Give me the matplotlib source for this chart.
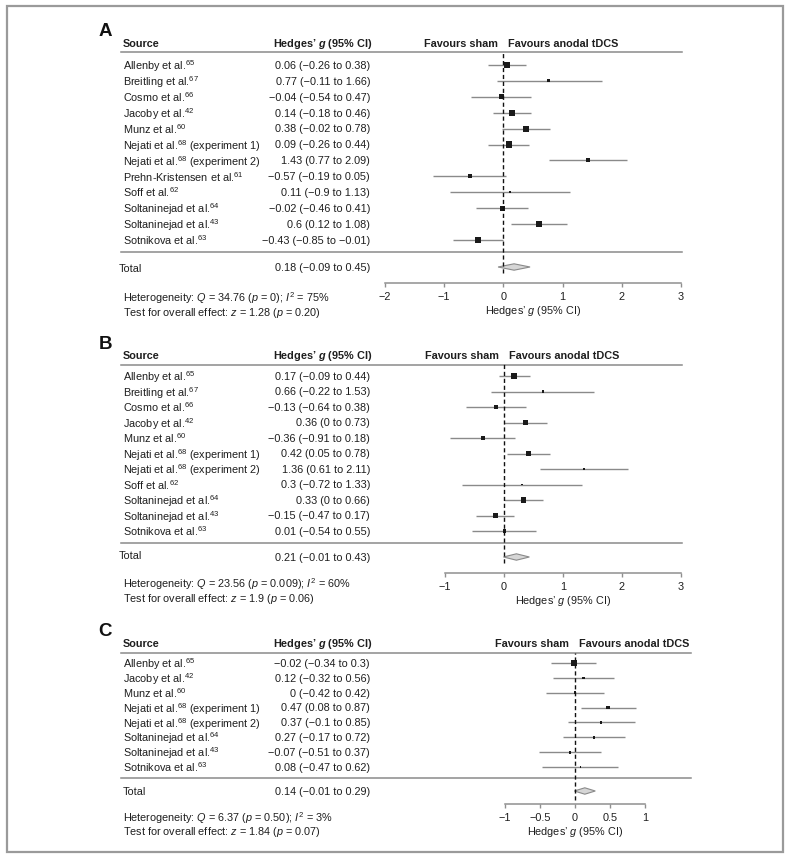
import matplotlib
matplotlib.use('Agg')
import matplotlib.pyplot as plt
from matplotlib.patches import Rectangle
from matplotlib.ticker import FixedLocator, FuncFormatter

plt.rcParams['font.family'] = ['Liberation Sans', 'DejaVu Sans']
plt.rcParams['mathtext.fontset'] = 'custom'
plt.rcParams['mathtext.rm'] = 'Liberation Sans'
plt.rcParams['mathtext.it'] = 'Liberation Sans:italic'
plt.rcParams['mathtext.bf'] = 'Liberation Sans:italic:bold'

# ---------------- Panel A data ----------------
a_sources = ["Allenby et al.$^{65}$", "Breitling et al.$^{67}$", "Cosmo et al.$^{66}$",
             "Jacoby et al.$^{42}$", "Munz et al.$^{60}$",
             "Nejati et al.$^{68}$ (experiment 1)", "Nejati et al.$^{68}$ (experiment 2)",
             "Prehn-Kristensen et al.$^{61}$", "Soff et al.$^{62}$",
             "Soltaninejad et al.$^{64}$", "Soltaninejad et al.$^{43}$", "Sotnikova et al.$^{63}$"]
a_g = [0.06, 0.77, -0.04, 0.14, 0.38, 0.09, 1.43, -0.57, 0.11, -0.02, 0.6, -0.43]
a_lo = [-0.26, -0.11, -0.54, -0.18, -0.02, -0.26, 0.77, -1.19, -0.9, -0.46, 0.12, -0.85]
a_hi = [0.38, 1.66, 0.47, 0.46, 0.78, 0.44, 2.09, 0.05, 1.13, 0.41, 1.08, -0.01]
a_ci_text = ["0.06 (−0.26 to 0.38)", "0.77 (−0.11 to 1.66)", "−0.04 (−0.54 to 0.47)",
             "0.14 (−0.18 to 0.46)", "0.38 (−0.02 to 0.78)", "0.09 (−0.26 to 0.44)",
             "1.43 (0.77 to 2.09)", "−0.57 (−0.19 to 0.05)", "0.11 (−0.9 to 1.13)",
             "−0.02 (−0.46 to 0.41)", "0.6 (0.12 to 1.08)", "−0.43 (−0.85 to −0.01)"]
a_weights = [12.0, 3.0, 8.3, 12.0, 12.0, 12.0, 5.3, 5.3, 2.1, 8.3, 10.0, 10.0]
a_total = [0.18, -0.09, 0.45]
a_total_text = "0.18 (−0.09 to 0.45)"
a_het = "Heterogeneity: $Q$ = 34.76 ($p$ = 0); $I^2$ = 75%"
a_test = "Test for overall effect: $z$ = 1.28 ($p$ = 0.20)"
a_ticks = [-2, -1, 0, 1, 2, 3]

# ---------------- Panel B data ----------------
b_sources = ["Allenby et al.$^{65}$", "Breitling et al.$^{67}$", "Cosmo et al.$^{66}$",
             "Jacoby et al.$^{42}$", "Munz et al.$^{60}$",
             "Nejati et al.$^{68}$ (experiment 1)", "Nejati et al.$^{68}$ (experiment 2)",
             "Soff et al.$^{62}$", "Soltaninejad et al.$^{64}$",
             "Soltaninejad et al.$^{43}$", "Sotnikova et al.$^{63}$"]
b_g = [0.17, 0.66, -0.13, 0.36, -0.36, 0.42, 1.36, 0.3, 0.33, -0.15, 0.01]
b_lo = [-0.09, -0.22, -0.64, 0.0, -0.91, 0.05, 0.61, -0.72, 0.0, -0.47, -0.54]
b_hi = [0.44, 1.53, 0.38, 0.73, 0.18, 0.78, 2.11, 1.33, 0.66, 0.17, 0.55]
b_ci_text = ["0.17 (−0.09 to 0.44)", "0.66 (−0.22 to 1.53)", "−0.13 (−0.64 to 0.38)",
             "0.36 (0 to 0.73)", "−0.36 (−0.91 to 0.18)", "0.42 (0.05 to 0.78)",
             "1.36 (0.61 to 2.11)", "0.3 (−0.72 to 1.33)", "0.33 (0 to 0.66)",
             "−0.15 (−0.47 to 0.17)", "0.01 (−0.54 to 0.55)"]
b_weights = [16.0, 2.7, 8.0, 14.0, 8.0, 14.0, 2.7, 1.5, 14.0, 12.5, 6.8]
b_total = [0.21, -0.01, 0.43]
b_total_text = "0.21 (−0.01 to 0.43)"
b_het = "Heterogeneity: $Q$ = 23.56 ($p$ = 0.009); $I^2$ = 60%"
b_test = "Test for overall effect: $z$ = 1.9 ($p$ = 0.06)"
b_ticks = [-1, 0, 1, 2, 3]

# ---------------- Panel C data ----------------
c_sources = ["Allenby et al.$^{65}$", "Jacoby et al.$^{42}$", "Munz et al.$^{60}$",
             "Nejati et al.$^{68}$ (experiment 1)", "Nejati et al.$^{68}$ (experiment 2)",
             "Soltaninejad et al.$^{64}$", "Soltaninejad et al.$^{43}$",
             "Sotnikova et al.$^{63}$"]
c_g = [-0.02, 0.12, 0.0, 0.47, 0.37, 0.27, -0.07, 0.08]
c_lo = [-0.34, -0.32, -0.42, 0.08, -0.1, -0.17, -0.51, -0.47]
c_hi = [0.3, 0.56, 0.42, 0.87, 0.85, 0.72, 0.37, 0.62]
c_ci_text = ["−0.02 (−0.34 to 0.3)", "0.12 (−0.32 to 0.56)", "0 (−0.42 to 0.42)",
             "0.47 (0.08 to 0.87)", "0.37 (−0.1 to 0.85)", "0.27 (−0.17 to 0.72)",
             "−0.07 (−0.51 to 0.37)", "0.08 (−0.47 to 0.62)"]
c_weights = [40.5, 8.2, 10.1, 15.4, 6.0, 8.2, 8.2, 3.3]
c_total = [0.14, -0.01, 0.29]
c_total_text = "0.14 (−0.01 to 0.29)"
c_het = "Heterogeneity: $Q$ = 6.37 ($p$ = 0.50); $I^2$ = 3%"
c_test = "Test for overall effect: $z$ = 1.84 ($p$ = 0.07)"
c_ticks = [-1, -0.5, 0, 0.5, 1]

# ---------------- styling / layout ----------------
W, H = 791, 861
FS = 7.8
BOFF = 3.9          # px from visual centre to baseline
MOFF = 1.3          # extra shift for strings with superscripts
TXT = '#1e1e1e'
GRAY = '#8a8a8a'
SPINE = '#8f8f8f'

fig = plt.figure(figsize=(W / 100, H / 100), dpi=100)
ov = fig.add_axes([0, 0, 1, 1])
ov.set_xlim(0, W)
ov.set_ylim(H, 0)
ov.axis('off')
ov.add_patch(Rectangle((7, 6), 776, 846, fill=False, edgecolor='#9a9a9a', lw=1.6))

fmt = FuncFormatter(lambda v, p: f"{v:g}".replace('-', '−'))


def put(x, y, s, ha='left', bold=False, size=FS):
    off = BOFF + (MOFF if '^' in s else 0)
    ov.text(x, y + off, s, fontsize=size, ha=ha, va='baseline', color=TXT,
            fontweight='bold' if bold else 'normal')


def draw_panel(letter, L, sources, g, lo, hi, ci_text, weights, wscale, total,
               total_text, het, test, ticks):
    ov.text(105, L['letter_y'] + 5, letter, fontsize=13.5, fontweight='bold',
            ha='center', va='baseline', color='#111')
    put(123, L['header_y'], "Source", bold=True)
    put(372, L['header_y'], "Hedges’ $\\mathbf{g}$ (95% CI)", ha='right', bold=True)
    put(L['fav_split'] - 5, L['header_y'], "Favours sham", ha='right', bold=True)
    put(L['fav_split'] + 5, L['header_y'], "Favours anodal tDCS", bold=True)
    ov.plot([121, L['line_right']], [L['hline_y']] * 2, color=GRAY, lw=1.1)
    ov.plot([121, L['line_right']], [L['bline_y']] * 2, color=GRAY, lw=1.1)
    for i, (s, t) in enumerate(zip(sources, ci_text)):
        y = L['row0'] + L['step'] * i
        put(123, y, s)
        put(370, y, t, ha='right')
    put(L['total_x'], L['total_label_y'], "Total")
    put(370, L['total_y'], total_text, ha='right')
    put(123, L['het_y'], het)
    put(123, L['test_y'], test)

    # forest axes
    left, right = L['ax_left'], L['ax_right']
    top, bot = L['hline_y'], L['axis_y']
    ax = fig.add_axes([left / W, 1 - bot / H, (right - left) / W, (bot - top) / H])
    ax.patch.set_alpha(0)
    ax.set_xlim(ticks[0], ticks[-1])
    i_top = (top - L['row0']) / L['step']
    i_bot = (bot - L['row0']) / L['step']
    ax.set_ylim(i_bot, i_top)
    rows = list(range(len(g)))
    ax.hlines(rows, lo, hi, color=GRAY, lw=1.0, zorder=2)
    sizes = [(wscale * w ** 0.5 * 0.72) ** 2 for w in weights]
    ax.scatter(g, rows, marker='s', s=sizes, color='#1a1a1a', linewidths=0, zorder=3)
    ty = (L['total_y'] - L['row0']) / L['step']
    hh = 3.2 / L['step']
    ax.fill([total[1], total[0], total[2], total[0]], [ty, ty - hh, ty, ty + hh],
            facecolor='#d6d6d6', edgecolor=GRAY, lw=0.8, zorder=2)
    ymin = (bot - L['dash_end']) / (bot - top)
    ax.axvline(0, ymin=ymin, ymax=1, color='#111', lw=1.0, ls=(0, (3, 2)), zorder=4)
    for sp in ['left', 'top', 'right']:
        ax.spines[sp].set_visible(False)
    ax.spines['bottom'].set_color(SPINE)
    ax.spines['bottom'].set_linewidth(1.1)
    ax.set_yticks([])
    ax.xaxis.set_major_locator(FixedLocator(ticks))
    ax.xaxis.set_major_formatter(fmt)
    ax.tick_params(axis='x', length=3.2, width=1.0, color=SPINE, labelsize=FS,
                   labelcolor=TXT, pad=3)
    ax.set_xlabel("Hedges’ $g$ (95% CI)", fontsize=FS, color=TXT, labelpad=2)
    return ax


LA = dict(letter_y=30.5, header_y=43, hline_y=52, row0=65, step=15.9, bline_y=252,
          total_y=267, total_label_y=268, total_x=119, het_y=297, test_y=312,
          ax_left=385, ax_right=681, axis_y=283, line_right=682, fav_split=503,
          dash_end=273)
LB = dict(letter_y=344, header_y=355, hline_y=364.5, row0=376, step=15.5, bline_y=543,
          total_y=557, total_label_y=555, total_x=119, het_y=583, test_y=598,
          ax_left=445, ax_right=681, axis_y=573, line_right=682, fav_split=504,
          dash_end=563)
LC = dict(letter_y=631, header_y=643, hline_y=653, row0=663, step=14.86, bline_y=778,
          total_y=791, total_label_y=791, total_x=123, het_y=817, test_y=831,
          ax_left=505, ax_right=645, axis_y=804, line_right=691, fav_split=574,
          dash_end=800)

draw_panel("A", LA, a_sources, a_g, a_lo, a_hi, a_ci_text, a_weights, 1.735,
           a_total, a_total_text, a_het, a_test, a_ticks)
draw_panel("B", LB, b_sources, b_g, b_lo, b_hi, b_ci_text, b_weights, 1.414,
           b_total, b_total_text, b_het, b_test, b_ticks)
draw_panel("C", LC, c_sources, c_g, c_lo, c_hi, c_ci_text, c_weights, 0.942,
           c_total, c_total_text, c_het, c_test, c_ticks)

fig.savefig("out.png", dpi=100, facecolor='white')
